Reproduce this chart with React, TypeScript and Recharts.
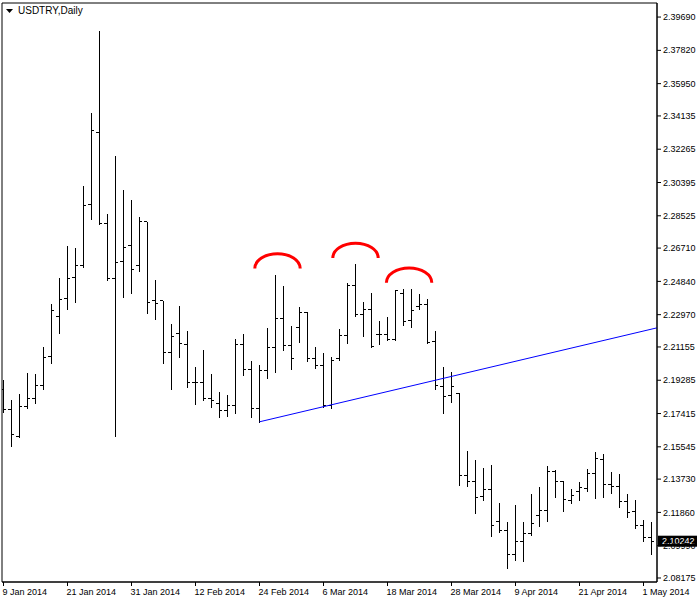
import React from 'react';
import { ComposedChart, Bar, XAxis, YAxis, ReferenceLine, ReferenceDot, ReferenceArea } from 'recharts';

const dates = [
  '9 Jan 2014', '10 Jan 2014', '13 Jan 2014', '14 Jan 2014', '15 Jan 2014', '16 Jan 2014', '17 Jan 2014', '20 Jan 2014',
  '21 Jan 2014', '22 Jan 2014', '23 Jan 2014', '24 Jan 2014', '27 Jan 2014', '28 Jan 2014', '29 Jan 2014', '30 Jan 2014',
  '31 Jan 2014', '3 Feb 2014', '4 Feb 2014', '5 Feb 2014', '6 Feb 2014', '7 Feb 2014', '10 Feb 2014', '11 Feb 2014',
  '12 Feb 2014', '13 Feb 2014', '14 Feb 2014', '17 Feb 2014', '18 Feb 2014', '19 Feb 2014', '20 Feb 2014', '21 Feb 2014',
  '24 Feb 2014', '25 Feb 2014', '26 Feb 2014', '27 Feb 2014', '28 Feb 2014', '3 Mar 2014', '4 Mar 2014', '5 Mar 2014',
  '6 Mar 2014', '7 Mar 2014', '10 Mar 2014', '11 Mar 2014', '12 Mar 2014', '13 Mar 2014', '14 Mar 2014', '17 Mar 2014',
  '18 Mar 2014', '19 Mar 2014', '20 Mar 2014', '21 Mar 2014', '24 Mar 2014', '25 Mar 2014', '26 Mar 2014', '27 Mar 2014',
  '28 Mar 2014', '31 Mar 2014', '1 Apr 2014', '2 Apr 2014', '3 Apr 2014', '4 Apr 2014', '7 Apr 2014', '8 Apr 2014',
  '9 Apr 2014', '10 Apr 2014', '11 Apr 2014', '14 Apr 2014', '15 Apr 2014', '16 Apr 2014', '17 Apr 2014', '18 Apr 2014',
  '21 Apr 2014', '22 Apr 2014', '23 Apr 2014', '24 Apr 2014', '25 Apr 2014', '28 Apr 2014', '29 Apr 2014', '30 Apr 2014',
  '1 May 2014', '2 May 2014',
];

const opens = [
  2.1874, 2.1765, 2.1611, 2.1780, 2.1827, 2.1900, 2.2061, 2.2285, 2.2390, 2.2503,
  2.2572, 2.2918, 2.3321, 2.2810, 2.2501, 2.2598, 2.2683, 2.2576, 2.2819, 2.2374,
  2.2374, 2.2085, 2.2192, 2.2132, 2.1918, 2.1918, 2.1827, 2.1799, 2.1757, 2.1789,
  2.2132, 2.1990, 2.1771, 2.1986, 2.2111, 2.2274, 2.2121, 2.2226, 2.2308, 2.2052,
  2.2014, 2.1789, 2.2052, 2.2179, 2.2463, 2.2299, 2.2327, 2.2186, 2.2183, 2.2160,
  2.2417, 2.2263, 2.2345, 2.2355, 2.2145, 2.1892, 2.1844, 2.1855, 2.1394, 2.1361,
  2.1278, 2.1312, 2.1136, 2.1083, 2.0947, 2.1025, 2.1065, 2.1171, 2.1199, 2.1415,
  2.1358, 2.1252, 2.1306, 2.1321, 2.1406, 2.1486, 2.1344, 2.1330, 2.1250, 2.1190,
  2.1115, 2.1046,
];

const highs = [
  2.1930, 2.1817, 2.1851, 2.1971, 2.1963, 2.2117, 2.2357, 2.2504, 2.2683, 2.2670,
  2.3020, 2.3428, 2.3890, 2.2862, 2.3188, 2.2997, 2.2941, 2.2847, 2.2819, 2.2492,
  2.2374, 2.2244, 2.2345, 2.2205, 2.2004, 2.2098, 2.1963, 2.1862, 2.1845, 2.2158,
  2.2186, 2.2036, 2.2014, 2.2220, 2.2520, 2.2458, 2.2233, 2.2338, 2.2313, 2.2113,
  2.2080, 2.2057, 2.2215, 2.2473, 2.2581, 2.2370, 2.2417, 2.2261, 2.2282, 2.2435,
  2.2439, 2.2439, 2.2413, 2.2383, 2.2207, 2.2001, 2.1975, 2.1858, 2.1531, 2.1480,
  2.1434, 2.1452, 2.1237, 2.1130, 2.1227, 2.1130, 2.1289, 2.1327, 2.1447, 2.1424,
  2.1362, 2.1316, 2.1357, 2.1428, 2.1524, 2.1514, 2.1411, 2.1400, 2.1289, 2.1256,
  2.1143, 2.1134,
];

const lows = [
  2.1752, 2.1559, 2.1608, 2.1771, 2.1802, 2.1877, 2.2027, 2.2192, 2.2330, 2.2370,
  2.2566, 2.2833, 2.2806, 2.2492, 2.1615, 2.2394, 2.2420, 2.2544, 2.2308, 2.2271,
  2.2024, 2.1881, 2.2057, 2.1892, 2.1793, 2.1817, 2.1776, 2.1720, 2.1729, 2.1746,
  2.1958, 2.1723, 2.1695, 2.1939, 2.1976, 2.2098, 2.1990, 2.2145, 2.2038, 2.1999,
  2.1780, 2.1771, 2.2042, 2.2136, 2.2289, 2.2179, 2.2113, 2.2130, 2.2154, 2.2154,
  2.2239, 2.2229, 2.2329, 2.2139, 2.1879, 2.1743, 2.1808, 2.1340, 2.1336, 2.1181,
  2.1256, 2.1055, 2.1077, 2.0872, 2.0918, 2.0915, 2.1059, 2.1109, 2.1139, 2.1274,
  2.1194, 2.1240, 2.1256, 2.1306, 2.1265, 2.1271, 2.1293, 2.1215, 2.1162, 2.1100,
  2.1027, 2.0952,
];

const closes = [
  2.1765, 2.1625, 2.1780, 2.1827, 2.1900, 2.2057, 2.2323, 2.2383, 2.2499, 2.2572,
  2.2911, 2.3329, 2.2810, 2.2501, 2.2591, 2.2677, 2.2548, 2.2819, 2.2364, 2.2361,
  2.2083, 2.2177, 2.2136, 2.1918, 2.1918, 2.1825, 2.1817, 2.1757, 2.1789, 2.2132,
  2.1991, 2.1771, 2.1986, 2.2111, 2.2274, 2.2121, 2.2048, 2.2308, 2.2048, 2.2014,
  2.1789, 2.2038, 2.2179, 2.2463, 2.2299, 2.2327, 2.2117, 2.2183, 2.2160, 2.2430,
  2.2261, 2.2319, 2.2355, 2.2139, 2.1899, 2.1840, 2.1892, 2.1394, 2.1361, 2.1271,
  2.1316, 2.1113, 2.1083, 2.0950, 2.1025, 2.1065, 2.1121, 2.1199, 2.1415, 2.1357,
  2.1259, 2.1280, 2.1325, 2.1406, 2.1490, 2.1344, 2.1330, 2.1250, 2.1188, 2.1115,
  2.1046, 2.10242,
];

const priceTicks = [
  2.3969, 2.3782, 2.3595, 2.34135, 2.32265, 2.30395, 2.28525, 2.2671, 2.2484,
  2.2297, 2.21155, 2.19285, 2.17415, 2.15545, 2.1373, 2.1186, 2.0999, 2.08175,
];
const dateTickIndices = [0, 8, 16, 24, 32, 40, 48, 56, 64, 72, 80];

const trendStart = { i: 32, p: 2.1695 };
const trendEnd = { i: 81.6875, p: 2.2223 };
const arcs = [
  { i: 34.25, p: 2.2556 },
  { i: 44.0, p: 2.2615 },
  { i: 50.7, p: 2.2476 },
];
const lastPrice = 2.10242;

const xDomain: [number, number] = [-0.1875, 81.6875];
const yDomain: [number, number] = [2.0795, 2.4048];

const data = dates.map((d, i) => ({
  i,
  date: d,
  open: opens[i],
  high: highs[i],
  low: lows[i],
  close: closes[i],
  range: [lows[i], highs[i]],
}));

const FONT = '"Liberation Sans", Arial, sans-serif';

const OhlcShape = (props: any) => {
  const { x, y, width, height, payload } = props;
  if (x == null || y == null || !payload) return null;
  const cx = x + width / 2;
  const top = Math.min(y, y + height);
  const bot = Math.max(y, y + height);
  const span = payload.high - payload.low;
  const yOf = (v: number) => (span > 0 ? top + ((payload.high - v) / span) * (bot - top) : top);
  const yo = Math.floor(yOf(payload.open)) + 0.5;
  const yc = Math.floor(yOf(payload.close)) + 0.5;
  return (
    <g shapeRendering="crispEdges">
      <line x1={cx} x2={cx} y1={top} y2={bot + 1} stroke="#000" strokeWidth={1} />
      <line x1={cx - 3} x2={cx} y1={yo} y2={yo} stroke="#000" strokeWidth={1} />
      <line x1={cx} x2={cx + 3} y1={yc} y2={yc} stroke="#000" strokeWidth={1} />
    </g>
  );
};

const ArcShape = (props: any) => {
  const { cx, cy } = props;
  if (cx == null || cy == null) return null;
  const rx = 22.7;
  const ry = 14.8;
  return (
    <path
      d={`M ${cx - rx} ${cy} A ${rx} ${ry} 0 0 1 ${cx + rx} ${cy}`}
      fill="none"
      stroke="#FF0000"
      strokeWidth={3}
    />
  );
};

const DateTick = (props: any) => {
  const { x, y, payload } = props;
  return (
    <text x={x - 1} y={y} dy="0.71em" textAnchor="start" fontSize={9} fontFamily={FONT} fill="#000">
      {dates[payload.value]}
    </text>
  );
};

const PriceTick = (props: any) => {
  const { x, y, payload } = props;
  return (
    <text x={x} y={y} dy="0.35em" textAnchor="start" fontSize={9} fontFamily={FONT} fill="#000">
      {Number(payload.value).toFixed(5)}
    </text>
  );
};

const LastPriceLabel = (props: any) => {
  const vb = props.viewBox || {};
  const left = vb.x + vb.width + 1;
  const cy = vb.y;
  return (
    <g>
      <rect x={left} y={cy - 5.5} width={39} height={11} fill="#000" />
      <text x={left + 4} y={cy} dy="0.35em" fontSize={9} fontFamily={FONT} fill="#fff">
        {lastPrice.toFixed(5)}
      </text>
    </g>
  );
};

export default function App() {
  return (
    <div style={{ position: 'absolute', left: 0, top: 0, width: 700, height: 600, background: '#fff' }}>
      <ComposedChart
        width={700}
        height={600}
        data={data}
        margin={{ top: 3, right: 0, bottom: 0, left: 2 }}
      >
        <XAxis
          dataKey="i"
          type="number"
          domain={xDomain}
          allowDataOverflow
          ticks={dateTickIndices}
          interval={0}
          height={18}
          tickSize={4}
          tickMargin={3}
          axisLine={{ stroke: '#000' }}
          tickLine={{ stroke: '#000' }}
          tick={<DateTick />}
        />
        <YAxis
          type="number"
          orientation="right"
          domain={yDomain}
          allowDataOverflow
          ticks={priceTicks}
          interval={0}
          width={43}
          tickSize={4}
          tickMargin={2}
          axisLine={{ stroke: '#000' }}
          tickLine={{ stroke: '#000' }}
          tick={<PriceTick />}
        />
        <ReferenceArea
          x1={xDomain[0]}
          x2={xDomain[1]}
          y1={yDomain[0]}
          y2={yDomain[1]}
          fill="none"
          fillOpacity={0}
          stroke="#000"
          strokeWidth={1}
          ifOverflow="visible"
        />
        <Bar dataKey="range" barSize={7} shape={<OhlcShape />} isAnimationActive={false} />
        <ReferenceLine
          segment={[
            { x: trendStart.i, y: trendStart.p },
            { x: trendEnd.i, y: trendEnd.p },
          ]}
          stroke="#0000FF"
          strokeWidth={1}
          ifOverflow="visible"
        />
        {arcs.map((a, k) => (
          <ReferenceDot key={k} x={a.i} y={a.p} r={1} shape={<ArcShape />} ifOverflow="visible" />
        ))}
        <ReferenceLine
          y={lastPrice}
          stroke="none"
          strokeOpacity={0}
          ifOverflow="visible"
          label={<LastPriceLabel />}
        />
      </ComposedChart>
      <div
        style={{
          position: 'absolute',
          left: 6,
          top: 4,
          fontFamily: FONT,
          fontSize: 10,
          color: '#000',
          display: 'flex',
          alignItems: 'center',
          lineHeight: '14px',
          pointerEvents: 'none',
        }}
      >
        <svg width={8} height={5} style={{ marginRight: 4 }}>
          <polygon points="0,0 7,0 3.5,4" fill="#000" />
        </svg>
        <span>USDTRY,Daily</span>
      </div>
    </div>
  );
}
